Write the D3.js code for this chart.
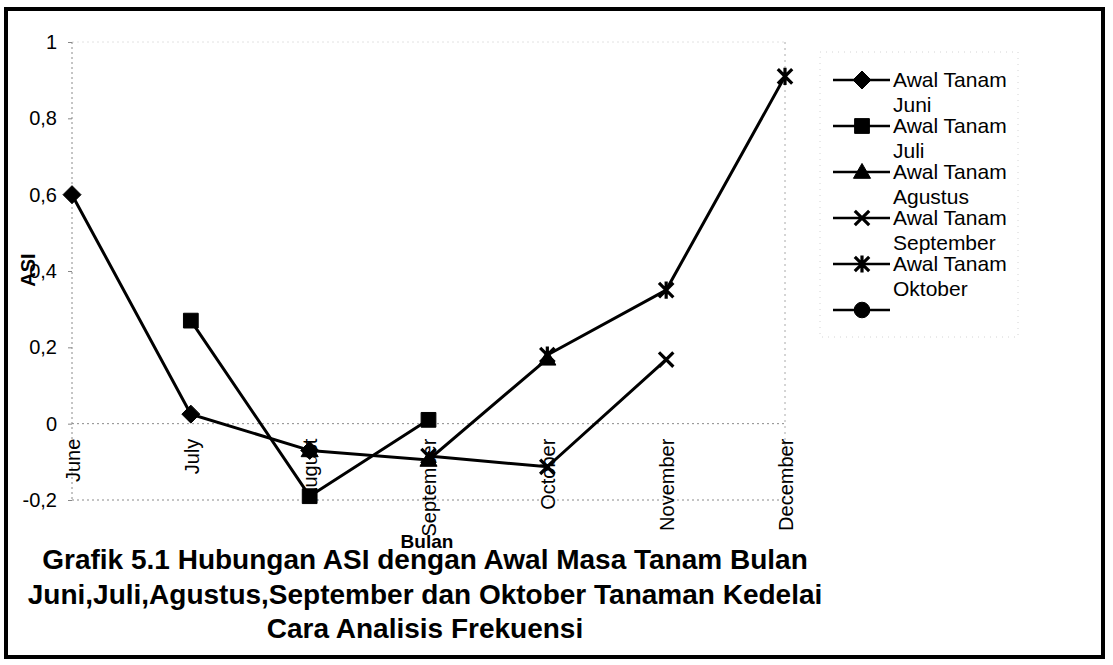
<!DOCTYPE html>
<html>
<head>
<meta charset="utf-8">
<script src="https://cdn.jsdelivr.net/npm/d3@7"></script>
<style>
html,body{margin:0;padding:0;background:#fff;}
svg{display:block;font-family:"Liberation Sans",Arial,sans-serif;}
</style>
</head>
<body>
<svg id="chart" width="1113" height="665"></svg>
<script>
// ---- data ----
const categories = ["June","July","August","September","October","November","December"];
const yTicks = [-0.2, 0, 0.2, 0.4, 0.6, 0.8, 1];
const yTickLabels = ["-0,2","0","0,2","0,4","0,6","0,8","1"];
const seriesNames = ["Awal Tanam Juni","Awal Tanam Juli","Awal Tanam Agustus","Awal Tanam September","Awal Tanam Oktober",""];
const legendLine1 = ["Awal Tanam","Awal Tanam","Awal Tanam","Awal Tanam","Awal Tanam",""];
const legendLine2 = ["Juni","Juli","Agustus","September","Oktober",""];
const markerTypes = ["diamond","square","triangle","x","asterisk","circle"];
const juni      = [0.6, 0.025, -0.07, null, null, null, null];
const juli      = [null, 0.27, -0.19, 0.01, null, null, null];
const agustus   = [null, null, -0.07, -0.095, 0.17, null, null];
const september = [null, null, null, -0.085, -0.113, 0.168, null];
const oktober   = [null, null, null, null, 0.18, 0.35, 0.91];
const empty     = [null, null, null, null, null, null, null];
const seriesValues = [juni, juli, agustus, september, oktober, empty];
const titleLines = ["Grafik 5.1 Hubungan ASI dengan Awal Masa Tanam Bulan",
                    "Juni,Juli,Agustus,September dan Oktober Tanaman Kedelai",
                    "Cara Analisis Frekuensi"];
const yAxisTitle = "ASI";
const xAxisTitle = "Bulan";

(function () {
const svg = d3.select("#chart");
const pLeft = 72, pRight = 785, pTop = 42, pBottom = 500;
const x = d3.scalePoint().domain(categories).range([pLeft, pRight]);
const y = d3.scaleLinear().domain([-0.2, 1]).range([pBottom, pTop]);

// outer border
svg.append("rect").attr("x", 6).attr("y", 9).attr("width", 1097).attr("height", 648)
  .attr("fill", "#fff").attr("stroke", "#000").attr("stroke-width", 4);

// plot frame / axis lines (faint dotted, as in the scan)
const grid = svg.append("g");
grid.selectAll("line.h").data(yTicks.filter(d => d === 0 || d === -0.2 || d === 1)).join("line")
  .attr("x1", pLeft).attr("x2", pRight)
  .attr("y1", d => y(d)).attr("y2", d => y(d))
  .attr("stroke", d => d === 1 ? "#e2e2e2" : "#8a8a8a")
  .attr("stroke-width", 1).attr("stroke-dasharray", "2,3");
grid.append("line").attr("x1", pLeft).attr("x2", pLeft).attr("y1", pTop).attr("y2", pBottom)
  .attr("stroke", "#8a8a8a").attr("stroke-dasharray", "2,3");
grid.append("line").attr("x1", pRight).attr("x2", pRight).attr("y1", pTop).attr("y2", pBottom)
  .attr("stroke", "#aaa").attr("stroke-dasharray", "2,4");

// y axis
const yAxis = d3.axisLeft(y).tickValues(yTicks)
  .tickFormat((d, i) => yTickLabels[i]).tickSize(4).tickPadding(11);
const yg = svg.append("g").attr("transform", `translate(${pLeft},0)`).call(yAxis);
yg.select(".domain").remove();
yg.selectAll(".tick line").attr("stroke", "#888");
yg.selectAll(".tick text").attr("font-size", 20).attr("fill", "#000")
  .attr("font-family", "Liberation Sans, Arial, sans-serif");

// x axis labels (rotated) at y=0
const xAxis = d3.axisBottom(x).tickSize(0).tickPadding(0);
const xg = svg.append("g").attr("transform", `translate(0,${y(0)})`).call(xAxis);
xg.select(".domain").remove();
xg.selectAll(".tick text")
  .attr("font-size", 20).attr("fill", "#000")
  .attr("font-family", "Liberation Sans, Arial, sans-serif")
  .attr("text-anchor", "end")
  .attr("transform", "rotate(-90)")
  .attr("x", -15).attr("y", 0).attr("dy", "0.36em");

svg.append("text").text(yAxisTitle)
  .attr("transform", "translate(35,270) rotate(-90)")
  .attr("text-anchor", "middle").attr("font-weight", "bold").attr("font-size", 20);

function markerPath(type, r) {
  switch (type) {
    case "diamond": return `M0,${-r}L${r},0L0,${r}L${-r},0Z`;
    case "square": return `M${-r*0.82},${-r*0.82}H${r*0.82}V${r*0.82}H${-r*0.82}Z`;
    case "triangle": return `M0,${-r*0.95}L${r*0.95},${r*0.7}L${-r*0.95},${r*0.7}Z`;
    case "circle": return d3.symbol(d3.symbolCircle, Math.PI*r*r*0.75)();
    case "x": return `M${-r*0.8},${-r*0.8}L${r*0.8},${r*0.8}M${r*0.8},${-r*0.8}L${-r*0.8},${r*0.8}`;
    case "asterisk": return `M${-r*0.8},${-r*0.8}L${r*0.8},${r*0.8}M${r*0.8},${-r*0.8}L${-r*0.8},${r*0.8}M0,${-r*0.95}V${r*0.95}`;
  }
}
function drawMarker(g, type, cx, cy) {
  const stroked = (type === "x" || type === "asterisk");
  g.append("path").attr("d", markerPath(type, 9))
    .attr("transform", `translate(${cx},${cy})`)
    .attr("fill", stroked ? "none" : "#000")
    .attr("stroke", "#000").attr("stroke-width", stroked ? 3.2 : 1);
}

const line = d3.line().defined(d => d.v != null).x(d => x(d.c)).y(d => y(d.v));
const plot = svg.append("g");
seriesValues.forEach((vals) => {
  const pts = vals.map((v, i) => ({c: categories[i], v}));
  plot.append("path").datum(pts).attr("d", line)
    .attr("fill", "none").attr("stroke", "#000").attr("stroke-width", 3);
});
seriesValues.forEach((vals, si) => {
  vals.forEach((v, i) => {
    if (v != null) drawMarker(plot, markerTypes[si], x(categories[i]), y(v));
  });
});

// legend
const lg = svg.append("g");
lg.append("rect").attr("x", 820).attr("y", 52).attr("width", 198).attr("height", 285)
  .attr("fill", "none").attr("stroke", "#d4d4d4").attr("stroke-dasharray", "1,5");
seriesNames.forEach((name, i) => {
  const ly = 80 + i * 46;
  lg.append("line").attr("x1", 833).attr("x2", 890).attr("y1", ly).attr("y2", ly)
    .attr("stroke", "#000").attr("stroke-width", 2.5);
  drawMarker(lg, markerTypes[i], 862, ly);
  lg.append("text").text(legendLine1[i]).attr("x", 893).attr("y", ly).attr("dy", "0.35em")
    .attr("font-size", 21);
  lg.append("text").text(legendLine2[i]).attr("x", 893).attr("y", ly + 25).attr("dy", "0.35em")
    .attr("font-size", 21);
});

// axis title and chart title
svg.append("text").text(xAxisTitle).attr("x", 427).attr("y", 548)
  .attr("text-anchor", "middle").attr("font-weight", "bold").attr("font-size", 19);
titleLines.forEach((t, i) => {
  svg.append("text").text(t).attr("x", 425).attr("y", 569 + i * 34.5)
    .attr("text-anchor", "middle").attr("font-weight", "bold").attr("font-size", 28);
});
})();
</script>
</body>
</html>
